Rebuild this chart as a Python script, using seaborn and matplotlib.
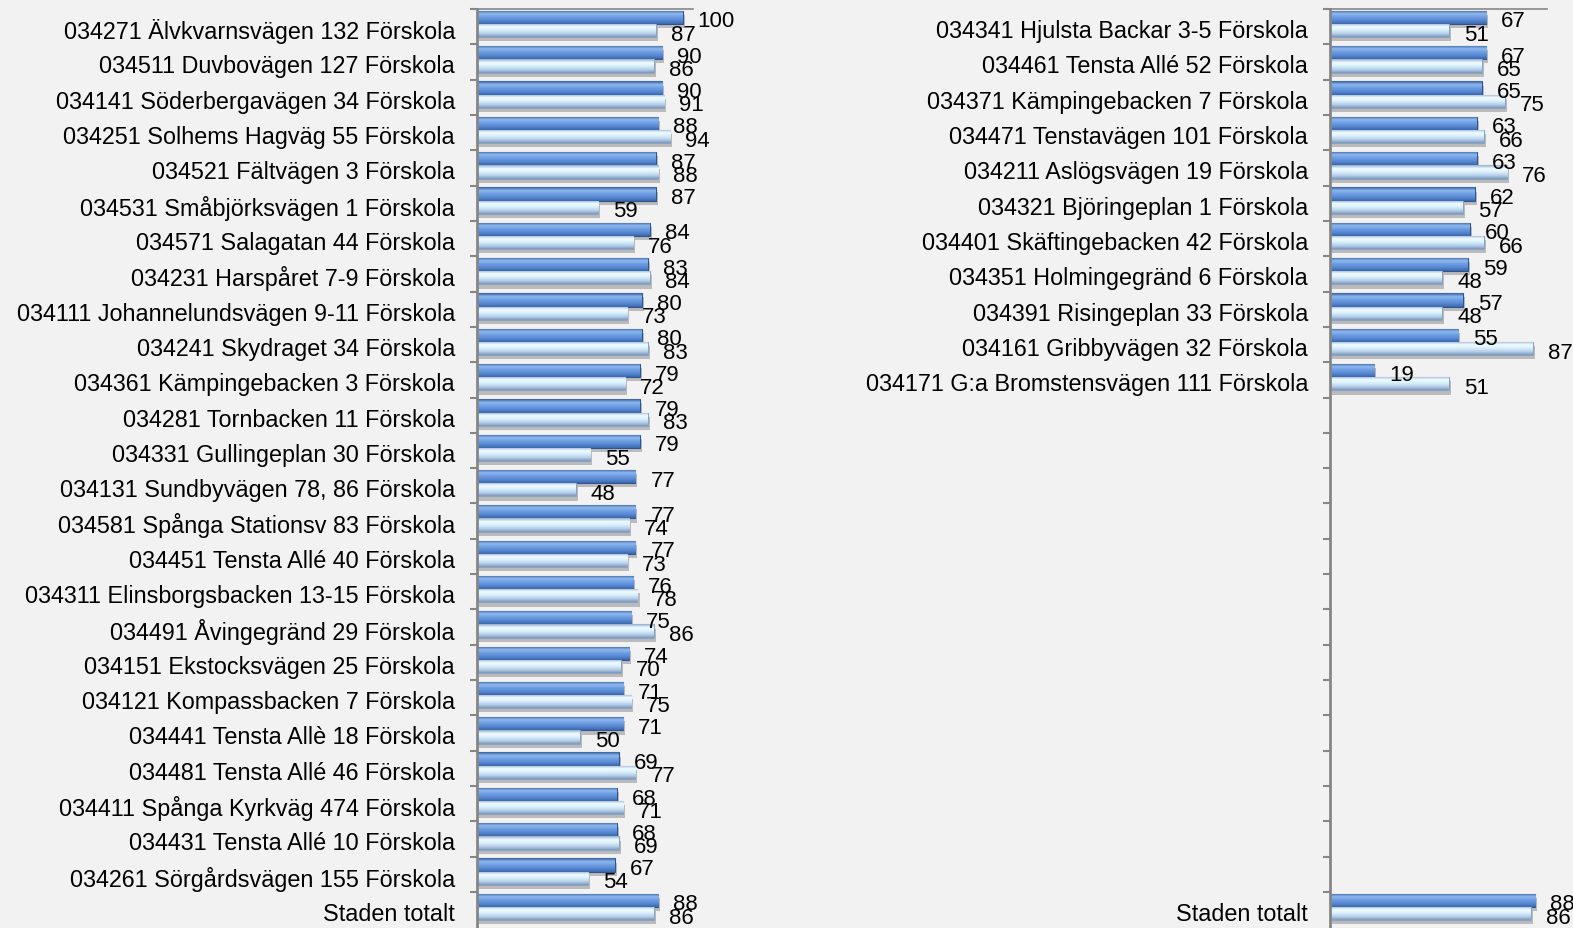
import numpy as np
import pandas as pd
import matplotlib
matplotlib.use("Agg")
import matplotlib.pyplot as plt
import matplotlib.patheffects as pe
from matplotlib.colors import LinearSegmentedColormap, to_rgb
from matplotlib.transforms import ScaledTranslation
import seaborn as sns

# ---------------- data ----------------
left_schools = [
    "034271 Älvkvarnsvägen 132 Förskola",
    "034511 Duvbovägen 127 Förskola",
    "034141 Söderbergavägen 34 Förskola",
    "034251 Solhems Hagväg 55 Förskola",
    "034521 Fältvägen 3 Förskola",
    "034531 Småbjörksvägen 1 Förskola",
    "034571 Salagatan 44 Förskola",
    "034231 Harspåret 7-9 Förskola",
    "034111 Johannelundsvägen 9-11 Förskola",
    "034241 Skydraget 34 Förskola",
    "034361 Kämpingebacken 3 Förskola",
    "034281 Tornbacken 11 Förskola",
    "034331 Gullingeplan 30 Förskola",
    "034131 Sundbyvägen 78, 86 Förskola",
    "034581 Spånga Stationsv 83 Förskola",
    "034451 Tensta Allé 40 Förskola",
    "034311 Elinsborgsbacken 13-15 Förskola",
    "034491 Åvingegränd 29 Förskola",
    "034151 Ekstocksvägen 25 Förskola",
    "034121 Kompassbacken 7 Förskola",
    "034441 Tensta Allè 18 Förskola",
    "034481 Tensta Allé 46 Förskola",
    "034411 Spånga Kyrkväg 474 Förskola",
    "034431 Tensta Allé 10 Förskola",
    "034261 Sörgårdsvägen 155 Förskola",
    "Staden totalt",
]
left_dark = [100, 90, 90, 88, 87, 87, 84, 83, 80, 80, 79, 79, 79, 77, 77, 77,
             76, 75, 74, 71, 71, 69, 68, 68, 67, 88]
left_light = [87, 86, 91, 94, 88, 59, 76, 84, 73, 83, 72, 83, 55, 48, 74, 73,
              78, 86, 70, 75, 50, 77, 71, 69, 54, 86]

right_schools = [
    "034341 Hjulsta Backar 3-5 Förskola",
    "034461 Tensta Allé 52 Förskola",
    "034371 Kämpingebacken 7 Förskola",
    "034471 Tenstavägen 101 Förskola",
    "034211 Aslögsvägen 19 Förskola",
    "034321 Björingeplan 1 Förskola",
    "034401 Skäftingebacken 42 Förskola",
    "034351 Holmingegränd 6 Förskola",
    "034391 Risingeplan 33 Förskola",
    "034161 Gribbyvägen 32 Förskola",
    "034171 G:a Bromstensvägen 111 Förskola",
    "Staden totalt",
]
right_dark = [67, 67, 65, 63, 63, 62, 60, 59, 57, 55, 19, 88]
right_light = [51, 65, 75, 66, 76, 57, 66, 48, 48, 87, 51, 86]
right_empty_rows = 14

series_names = ["dark", "light"]

# ---------------- style ----------------
BG = "#F2F2F2"
SPINE = "#868686"
FONT = ["Liberation Sans", "DejaVu Sans"]
FS_TICK = 16.8
FS_VAL = 16

plt.rcParams["font.family"] = FONT

dark_grad = ["#33609F", "#90B8EE", "#6C9DE2", "#5888D2", "#3A67AC"]
light_grad = ["#93AECF", "#F2FCFF", "#D8F0FD", "#B8D0E8", "#7D98BD"]


def make_df(schools, dark, light):
    return pd.DataFrame({
        "school": schools * 2,
        "series": [series_names[0]] * len(schools) + [series_names[1]] * len(schools),
        "value": list(dark) + list(light),
    })


def gradient_fill(ax, patch, colors):
    cmap = LinearSegmentedColormap.from_list("g", [to_rgb(c) for c in colors])
    grad = np.linspace(0, 1, 64).reshape(-1, 1)
    x0 = patch.get_x()
    w = patch.get_width()
    y0 = patch.get_y()
    h = patch.get_height()
    if not np.isfinite(w) or w == 0:
        return
    im = ax.imshow(grad, cmap=cmap, aspect="auto", origin="upper",
                   extent=(x0, x0 + w, y0 + h, y0), interpolation="bilinear",
                   zorder=patch.get_zorder() + 0.1)
    im.set_clip_path(patch)


def draw_panel(ax, order, df, xmax):
    sns.barplot(data=df, y="school", x="value", hue="series", order=order,
                hue_order=series_names, palette=["#5A8AD4", "#D0EAF9"],
                orient="h", dodge=True, width=0.75, gap=0, ax=ax,
                legend=False, errorbar=None, saturation=1)
    edge = ["#2E5590", "#8BA3C2"]
    grads = [dark_grad, light_grad]
    for k, cont in enumerate(ax.containers):
        for patch in cont.patches:
            patch.set_edgecolor(edge[k])
            patch.set_linewidth(0.8)
            patch.set_path_effects([
                pe.SimplePatchShadow(offset=(1.5, -3), shadow_rgbFace="#555555", alpha=0.35),
                pe.Normal()])
            gradient_fill(ax, patch, grads[k])
            w = patch.get_width()
            if np.isfinite(w):
                ax.annotate(f"{w:.0f}", xy=(w, patch.get_y() + patch.get_height() / 2),
                            xytext=(10.8, -2.6), textcoords="offset points",
                            ha="left", va="center", fontsize=FS_VAL, color="#000000",
                            annotation_clip=False, zorder=10)
    n = len(order)
    ax.set_xlim(0, xmax)
    ax.set_ylim(n - 1 + 0.575, -0.425)
    ax.set_facecolor("none")
    ax.set_xlabel("")
    ax.set_ylabel("")
    ax.set_xticks([])
    for s in ["right", "bottom"]:
        ax.spines[s].set_visible(False)
    ax.spines["left"].set_color(SPINE)
    ax.spines["left"].set_linewidth(2)
    ax.spines["top"].set_color(SPINE)
    ax.spines["top"].set_linewidth(1.2)
    ax.set_yticks(np.arange(n) - 0.425, minor=True)
    ax.tick_params(axis="y", which="minor", length=5, width=1.5, color=SPINE)
    ax.tick_params(axis="y", which="major", length=0, pad=15.8, labelsize=FS_TICK)
    off = ScaledTranslation(0, -4 / 100, ax.figure.dpi_scale_trans)
    for lab in ax.get_yticklabels():
        lab.set_transform(lab.get_transform() + off)
        lab.set_family(FONT)


fig = plt.figure(figsize=(15.73, 9.29), dpi=100)
fig.patch.set_facecolor(BG)

ax_l = fig.add_axes([477 / 1573, 0.00075, 216 / 1573, 0.98849])
ax_r = fig.add_axes([1330 / 1573, 0.00075, 217 / 1573, 0.98849])

df_l = make_df(left_schools, left_dark, left_light)
draw_panel(ax_l, left_schools, df_l, 105)

right_order = right_schools[:-1] + [" " * (i + 1) for i in range(right_empty_rows)] + [right_schools[-1]]
df_r = make_df(right_schools, right_dark, right_light)
draw_panel(ax_r, right_order, df_r, 93)

fig.savefig("out.png", dpi=100, facecolor=BG)
